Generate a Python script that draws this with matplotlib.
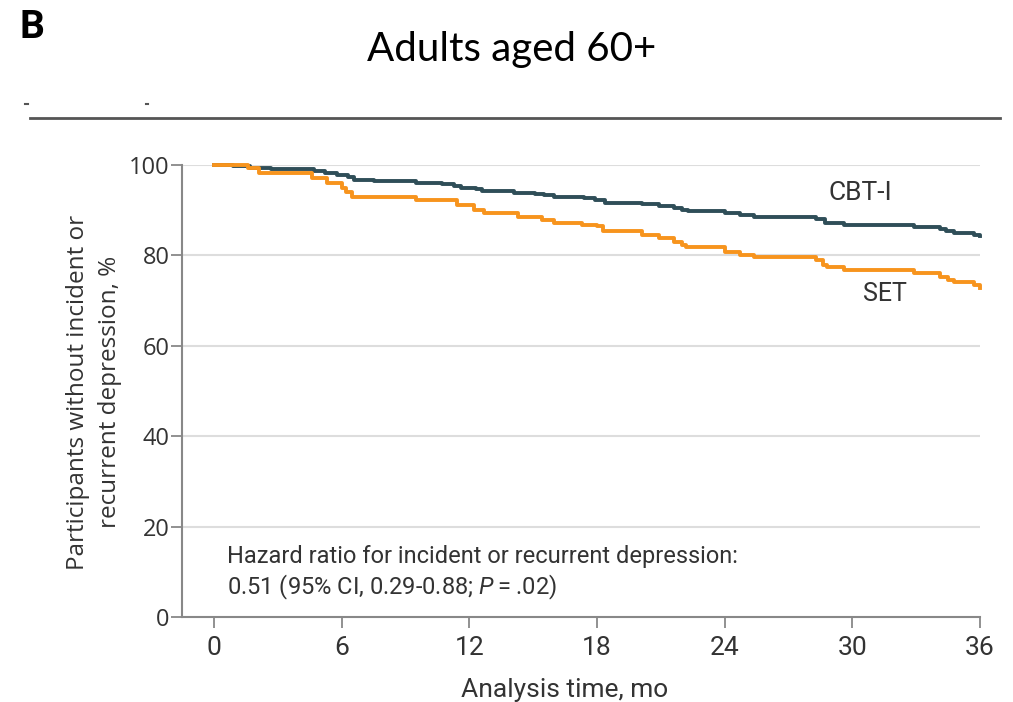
import numpy as np
import matplotlib
matplotlib.use("Agg")
import matplotlib.pyplot as plt
from matplotlib.lines import Line2D

# Kaplan-Meier step curves (months, % without depression)
cbt_t = [0, 0.9, 1.7, 2.7, 4.7, 5.2, 5.8, 6.3, 6.6, 7.5, 9.5, 10.7, 11.3, 11.6,
         12.3, 12.6, 14.1, 15.1, 15.5, 16.0, 17.4, 17.9, 18.4, 20.1, 20.9, 21.6,
         22.0, 22.3, 24.0, 24.7, 25.4, 28.3, 28.7, 29.6, 32.9, 34.1, 34.4, 34.8,
         35.7, 36.0]
cbt_s = [100, 99.8, 99.4, 99.1, 98.7, 98.2, 97.8, 97.3, 96.7, 96.5, 96.0, 95.7,
         95.4, 95.0, 94.6, 94.2, 93.8, 93.6, 93.3, 93.0, 92.7, 92.3, 91.6, 91.3,
         91.0, 90.5, 90.0, 89.8, 89.3, 88.9, 88.6, 88.0, 87.2, 86.7, 86.3, 85.8,
         85.4, 85.0, 84.5, 84.2]

set_t = [0, 1.6, 2.1, 4.6, 5.3, 6.0, 6.2, 6.5, 9.5, 11.4, 12.2, 12.7, 14.3, 15.4,
         16.0, 17.3, 18.0, 18.3, 20.1, 20.9, 21.6, 22.0, 22.2, 24.0, 24.7, 25.4,
         28.3, 28.6, 28.8, 29.6, 32.9, 34.1, 34.5, 34.8, 35.7, 36.0]
set_s = [100, 99.3, 98.2, 97.1, 96.0, 94.8, 94.1, 93.0, 92.3, 91.2, 90.0, 89.3,
         88.6, 87.8, 87.2, 86.7, 86.4, 85.3, 84.5, 83.8, 83.0, 82.3, 81.9, 80.8,
         80.1, 79.6, 79.0, 77.9, 77.5, 76.8, 76.0, 75.3, 74.6, 74.2, 73.5, 72.8]

xticks = [0, 6, 12, 18, 24, 30, 36]
yticks = [0, 20, 40, 60, 80, 100]

narrow = ['Roboto', 'DejaVu Sans']
sans = ['Open Sans', 'DejaVu Sans']
txt = '#333333'

plt.rcParams['mathtext.fontset'] = 'custom'
plt.rcParams['mathtext.it'] = 'Roboto:italic'
plt.rcParams['mathtext.rm'] = 'Roboto'

fig = plt.figure(figsize=(10.13, 7.02), dpi=100)
ax = fig.add_axes([0.1797, 0.1211, 0.7877, 0.6439])

ax.step(cbt_t, cbt_s, where='post', color='#2f4e58', lw=2.8, clip_on=False, zorder=3)
ax.step(set_t, set_s, where='post', color='#f7941d', lw=2.8, clip_on=False, zorder=3)

ax.set_xlim(-1.5, 36)
ax.set_ylim(0, 100)
ax.set_xticks(xticks)
ax.set_yticks(yticks)
ax.set_xticklabels([str(v) for v in xticks], family=narrow, fontsize=19, color=txt)
ax.set_yticklabels([str(v) for v in yticks], family=sans, fontsize=17, color=txt)
for v in yticks[1:]:
    ax.axhline(v, color='#dddddd', lw=1.5, zorder=1)

for s in ['top', 'right']:
    ax.spines[s].set_visible(False)
for s in ['left', 'bottom']:
    ax.spines[s].set_color('#888888')
    ax.spines[s].set_linewidth(1.5)
ax.tick_params(axis='both', length=8, width=1.3, color='#888888')
ax.tick_params(axis='x', pad=6)
ax.tick_params(axis='y', pad=1)

ax.set_xlabel('Analysis time, mo', family=narrow, fontsize=19, color=txt)
ax.xaxis.set_label_coords(0.48, -0.135)

# two-line y label placed by hand
fig.text(78 / 1013, 1 - 392 / 702, 'Participants without incident or',
         family=sans, fontsize=17.5, color=txt, rotation=90, ha='center', va='center')
fig.text(110 / 1013, 1 - 392 / 702, 'recurrent depression, %',
         family=sans, fontsize=17.5, color=txt, rotation=90, ha='center', va='center')

ax.text(28.9, 93.9, 'CBT-I', family=narrow, fontsize=19, color=txt, va='center')
ax.text(30.5, 71.5, 'SET', family=narrow, fontsize=18, color=txt, va='center')

ax.text(0.6, 13.3, 'Hazard ratio for incident or recurrent depression:',
        family=narrow, fontsize=17, color=txt, va='center')
ax.text(0.6, 6.5, '0.51 (95% CI, 0.29-0.88; $P$\u2009=\u2009.02)',
        family=narrow, fontsize=17, color=txt, va='center')

# header rule and panel title
fig.add_artist(Line2D([30 / 1013, 1000 / 1013], [1 - 118 / 702] * 2,
                      color='#555555', lw=2))
fig.add_artist(Line2D([25 / 1013, 28 / 1013], [1 - 104 / 702] * 2,
                      color='#555555', lw=1.5))
fig.add_artist(Line2D([146 / 1013, 148 / 1013], [1 - 104 / 702] * 2,
                      color='#555555', lw=1.5))
fig.text(19 / 1013, 1 - 27 / 702, 'B', family=narrow, fontsize=28,
         fontweight='bold', color='black', va='center', ha='left')
fig.text(512 / 1013, 1 - 49 / 702, 'Adults aged 60+', family=['Lato', 'DejaVu Sans'],
         fontsize=29, color='black', va='center', ha='center')

fig.savefig('out.png', dpi=100)
